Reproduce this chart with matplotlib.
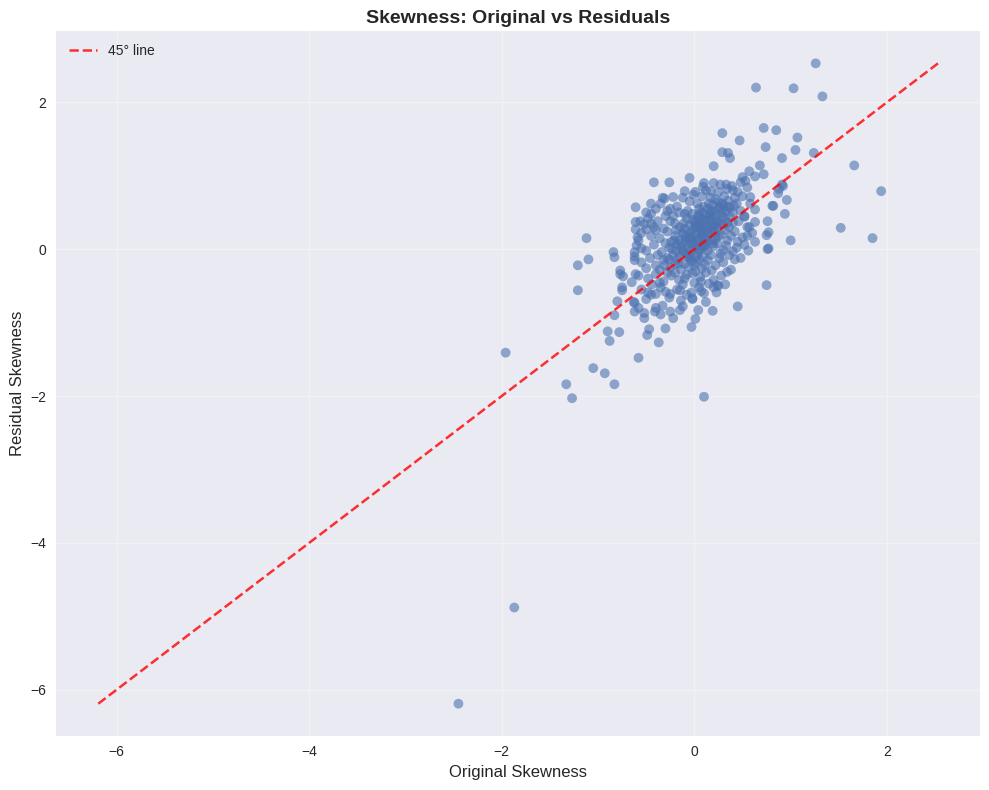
import matplotlib
matplotlib.use("Agg")
import matplotlib.pyplot as plt
import numpy as np

# Sparse / outlying points (original skewness, residual skewness)
outer_x = [-1.87, -2.45, -1.96, -1.33, -1.27, -1.05, -0.93, -0.83, -0.90, -0.88,
           -0.78, -0.58, 0.10, -1.12, -1.21, -1.21, -1.10, 0.64, 1.03, 1.26,
           1.33, 1.66, 1.94, 1.52, 1.85, 1.00, 0.75, 0.45, 1.24, 1.07,
           1.05, 0.72, 0.85, 0.91, 0.91, 0.88, 0.94, 0.96, 0.81, 0.76,
           0.76, 0.75, 0.74, 0.47, 0.29, 0.29, 0.35, 0.37, 0.20, 0.68,
           0.72, 0.57, 0.63, 0.50, 0.48, 0.55, 0.58, 0.92, 0.87, 0.82,
           0.63, 0.63, 0.77, 0.77, 0.63, 0.55, 0.57, 0.52, 0.41, 0.42,
           0.34, 0.24, 0.27, 0.20, 0.10, 0.01, 0.17, 0.34, 0.39, 0.31,
           0.45, -0.42, -0.26, -0.05, -0.10, -0.31, -0.22, -0.61, -0.45, -0.61,
           -0.56, -0.45, -0.61, -0.59, -0.50, -0.84, -0.83, -0.62, -0.62, -0.55,
           -0.77, -0.77, -0.74, -0.61, -0.75, -0.75, -0.80, -0.83, 0.19, -0.03,
           0.01, 0.04, 0.07, 0.23, 0.25, -0.37, -0.49, -0.47, -0.30, -0.22,
           -0.52, -0.62, -0.62, -0.15, -0.35, -0.41, -0.33, -0.52, -0.63, -0.25,
           -0.03, -0.02, -0.15, -0.48, -0.40, 0.53]
outer_y = [-4.88, -6.19, -1.41, -1.84, -2.03, -1.62, -1.69, -1.84, -1.12, -1.25,
           -1.13, -1.48, -2.01, 0.15, -0.22, -0.56, -0.14, 2.20, 2.19, 2.53,
           2.08, 1.14, 0.79, 0.29, 0.15, 0.12, -0.49, -0.78, 1.31, 1.52,
           1.35, 1.65, 1.62, 1.24, 0.88, 0.82, 0.48, 0.67, 0.59, 0.38,
           0.00, 0.19, 1.39, 1.48, 1.58, 1.32, 1.31, 1.24, 1.13, 1.14,
           1.02, 1.06, 0.99, 0.98, 0.91, 0.84, 0.71, 0.86, 0.76, 0.59,
           0.54, 0.37, 0.23, 0.01, 0.10, 0.18, 0.30, 0.45, 0.59, -0.14,
           -0.31, -0.49, 0.88, 0.90, 0.90, 0.78, 0.79, 0.82, 0.86, 0.72,
           0.78, 0.91, 0.91, 0.97, 0.79, 0.69, 0.71, 0.57, 0.48, 0.37,
           0.38, 0.35, 0.27, 0.16, 0.27, -0.04, -0.11, -0.04, -0.15, 0.01,
           -0.29, -0.34, -0.37, -0.34, -0.52, -0.56, -0.71, -0.90, -0.84, -1.06,
           -0.95, -0.83, -0.57, -0.59, -0.50, -1.27, -1.17, -1.09, -1.08, -0.94,
           -0.94, -0.85, -0.73, -0.83, -0.89, -0.85, -0.77, -0.87, -0.72, -0.61,
           -0.59, -0.67, -0.56, -0.59, -0.61, 0.93]

# Dense core of the cloud
core_x = [-0.35, -0.18, -0.05, 0.08, 0.15, 0.22, 0.30, 0.05, -0.28, -0.12, 0.12, 0.25, 0.35, 0.42, -0.22, 0.18, 0.28,
          -0.48, -0.38, -0.30, -0.20, -0.10, -0.02, 0.04, 0.10, 0.16, 0.24, 0.32, 0.40, 0.46, -0.15, -0.05, 0.02, 0.08,
          0.13, 0.20, 0.36, -0.42, -0.32, -0.25, 0.06, 0.30, -0.08,
          -0.55, -0.45, -0.36, -0.28, -0.20, -0.12, -0.06, 0.00, 0.05, 0.10, 0.16, 0.22, 0.28, 0.34, 0.42, 0.50, -0.40,
          -0.16, -0.02, 0.03, 0.08, 0.13, 0.19, 0.25, -0.24, -0.10, 0.38, 0.45,
          -0.60, -0.50, -0.42, -0.34, -0.26, -0.18, -0.12, -0.06, -0.01, 0.04, 0.09, 0.14, 0.20, 0.27, 0.33, 0.40, -0.30,
          -0.22, -0.08, 0.01, 0.06, 0.11, 0.17, 0.24, -0.38, -0.15, -0.04, 0.30,
          -0.55, -0.46, -0.40, -0.32, -0.25, -0.18, -0.10, -0.04, 0.02, 0.08, 0.14, 0.22, 0.30, 0.38, -0.28, -0.14, -0.06,
          0.05, 0.11, 0.18, -0.36, -0.50, 0.26, -0.20,
          -0.58, -0.48, -0.40, -0.32, -0.24, -0.16, -0.08, 0.00, 0.06, 0.12, 0.20, 0.28, -0.44, -0.28, -0.12, -0.02, 0.15, -0.36,
          -0.55, -0.45, -0.35, -0.26, -0.18, -0.08, 0.05, 0.10, -0.50, -0.30, -0.14,
          -0.03, 0.02, 0.07, -0.09, 0.12, -0.14, 0.18, -0.05, 0.04, 0.09, -0.11, 0.15, -0.19, 0.21, 0.00, 0.06, -0.07, 0.10,
          0.03, 0.17, -0.01, 0.09, 0.14, -0.16, 0.26, 0.33, -0.23, -0.31, -0.20, -0.10, 0.01, 0.07, -0.04, 0.02, 0.11, -0.02,
          0.19, 0.23, 0.29, 0.37, 0.44, 0.48, 0.52, 0.55, 0.60, 0.58, 0.50, 0.40, 0.33, -0.25, -0.33, -0.40, -0.45, -0.50,
          -0.52, -0.58, -0.62, -0.65, -0.58, -0.40, -0.25, -0.12, -0.02, 0.12, 0.20, 0.32, 0.36, 0.44, 0.48, 0.52, 0.56]
core_y = [0.62, 0.58, 0.65, 0.72, 0.62, 0.68, 0.60, 0.55, 0.52, 0.70, 0.80, 0.78, 0.66, 0.70, 0.45, 0.52, 0.48,
          0.42, 0.38, 0.45, 0.35, 0.48, 0.40, 0.45, 0.38, 0.44, 0.36, 0.42, 0.50, 0.38, 0.30, 0.32, 0.30, 0.50,
          0.32, 0.28, 0.30, 0.30, 0.28, 0.38, 0.36, 0.34, 0.42,
          0.22, 0.18, 0.15, 0.24, 0.18, 0.22, 0.14, 0.20, 0.25, 0.16, 0.22, 0.14, 0.20, 0.12, 0.24, 0.16, 0.26,
          0.12, 0.26, 0.12, 0.22, 0.10, 0.26, 0.18, 0.10, 0.28, 0.18, 0.10,
          0.05, -0.02, 0.06, -0.04, 0.02, 0.06, -0.02, 0.08, 0.02, -0.05, 0.06, -0.02, 0.04, -0.06, 0.05, -0.03, 0.08,
          -0.08, -0.06, 0.09, -0.01, 0.03, -0.08, 0.08, -0.08, -0.09, -0.03, -0.01,
          -0.18, -0.12, -0.22, -0.15, -0.25, -0.14, -0.20, -0.12, -0.18, -0.26, -0.15, -0.22, -0.18, -0.28, -0.12, -0.28, -0.24,
          -0.14, -0.21, -0.29, -0.28, -0.26, -0.12, -0.20,
          -0.36, -0.40, -0.34, -0.44, -0.36, -0.42, -0.35, -0.46, -0.38, -0.32, -0.42, -0.36, -0.48, -0.32, -0.48, -0.33, -0.47, -0.46,
          -0.55, -0.62, -0.52, -0.66, -0.55, -0.62, -0.52, -0.60, -0.68, -0.58, -0.70,
          0.15, 0.05, 0.18, 0.10, 0.24, 0.02, 0.12, -0.09, 0.32, -0.10, 0.35, 0.40, 0.26, 0.34, -0.22, 0.42, 0.52, 0.58,
          0.62, 0.70, 0.74, 0.85, 0.55, 0.50, 0.56, 0.52, 0.00, -0.22, -0.32, -0.40, -0.30, -0.44, 0.18, 0.38, 0.46, 0.48,
          0.60, 0.46, 0.62, 0.56, 0.62, 0.52, 0.44, 0.30, 0.22, 0.62, 0.72, 0.80, 0.88, 0.55, 0.70, 0.55, 0.62, 0.50,
          0.34, 0.12, -0.10, -0.45, -0.80, -0.80, -0.85, -0.78, -0.68, -0.72, -0.52, -0.48, -0.08, 0.02, -0.12, 0.06, -0.02]

# Extra points in the saturated centre of the cloud
centre_x = [-0.02, 0.03, 0.08, 0.13, 0.18, 0.23, -0.07, -0.12, 0.01, 0.06, 0.11, 0.16, 0.21, 0.26, -0.04, 0.04,
            0.09, 0.14, 0.19, 0.24, 0.29, 0.34, -0.09, -0.14, -0.19, -0.03, 0.02, 0.07, 0.12, 0.17, 0.22, 0.27,
            0.32, 0.37, -0.06, 0.00, 0.05, 0.10, 0.15, 0.20, -0.11, -0.16, -0.21, -0.26, 0.25, 0.30, 0.35, 0.40]
centre_y = [0.08, 0.14, 0.20, 0.26, 0.32, 0.38, 0.02, -0.04, 0.30, 0.34, 0.40, 0.46, 0.52, 0.58, 0.22, 0.00,
            0.06, 0.18, 0.08, 0.30, 0.44, 0.36, 0.16, 0.08, -0.02, -0.16, -0.10, 0.28, 0.14, 0.50, 0.22, 0.34,
            0.26, 0.44, -0.12, 0.36, 0.48, 0.04, 0.30, 0.42, 0.20, -0.20, 0.12, -0.14, 0.64, 0.54, 0.58, 0.36]

orig_skew = np.array(outer_x + core_x + centre_x)
resid_skew = np.array(outer_y + core_y + centre_y)

plt.style.use("seaborn-v0_8")
plt.rcParams['font.family'] = ['Liberation Sans', 'DejaVu Sans']

fig, ax = plt.subplots(figsize=(10, 8), dpi=100)
ax.scatter(orig_skew, resid_skew, s=50, alpha=0.6, color="#4C72B0", edgecolors="none")
lo = min(orig_skew.min(), resid_skew.min())
hi = max(orig_skew.max(), resid_skew.max())
ax.plot([lo, hi], [lo, hi], color="red", linestyle="--", alpha=0.8, lw=1.8, label="45° line")
ax.set_xlabel("Original Skewness", fontsize=12)
ax.set_ylabel("Residual Skewness", fontsize=12)
ax.set_title("Skewness: Original vs Residuals", fontsize=14, fontweight="bold")
ax.legend(loc="upper left")
ax.grid(True, alpha=0.3)
fig.tight_layout()
fig.savefig("out.png", dpi=100, bbox_inches="tight")
